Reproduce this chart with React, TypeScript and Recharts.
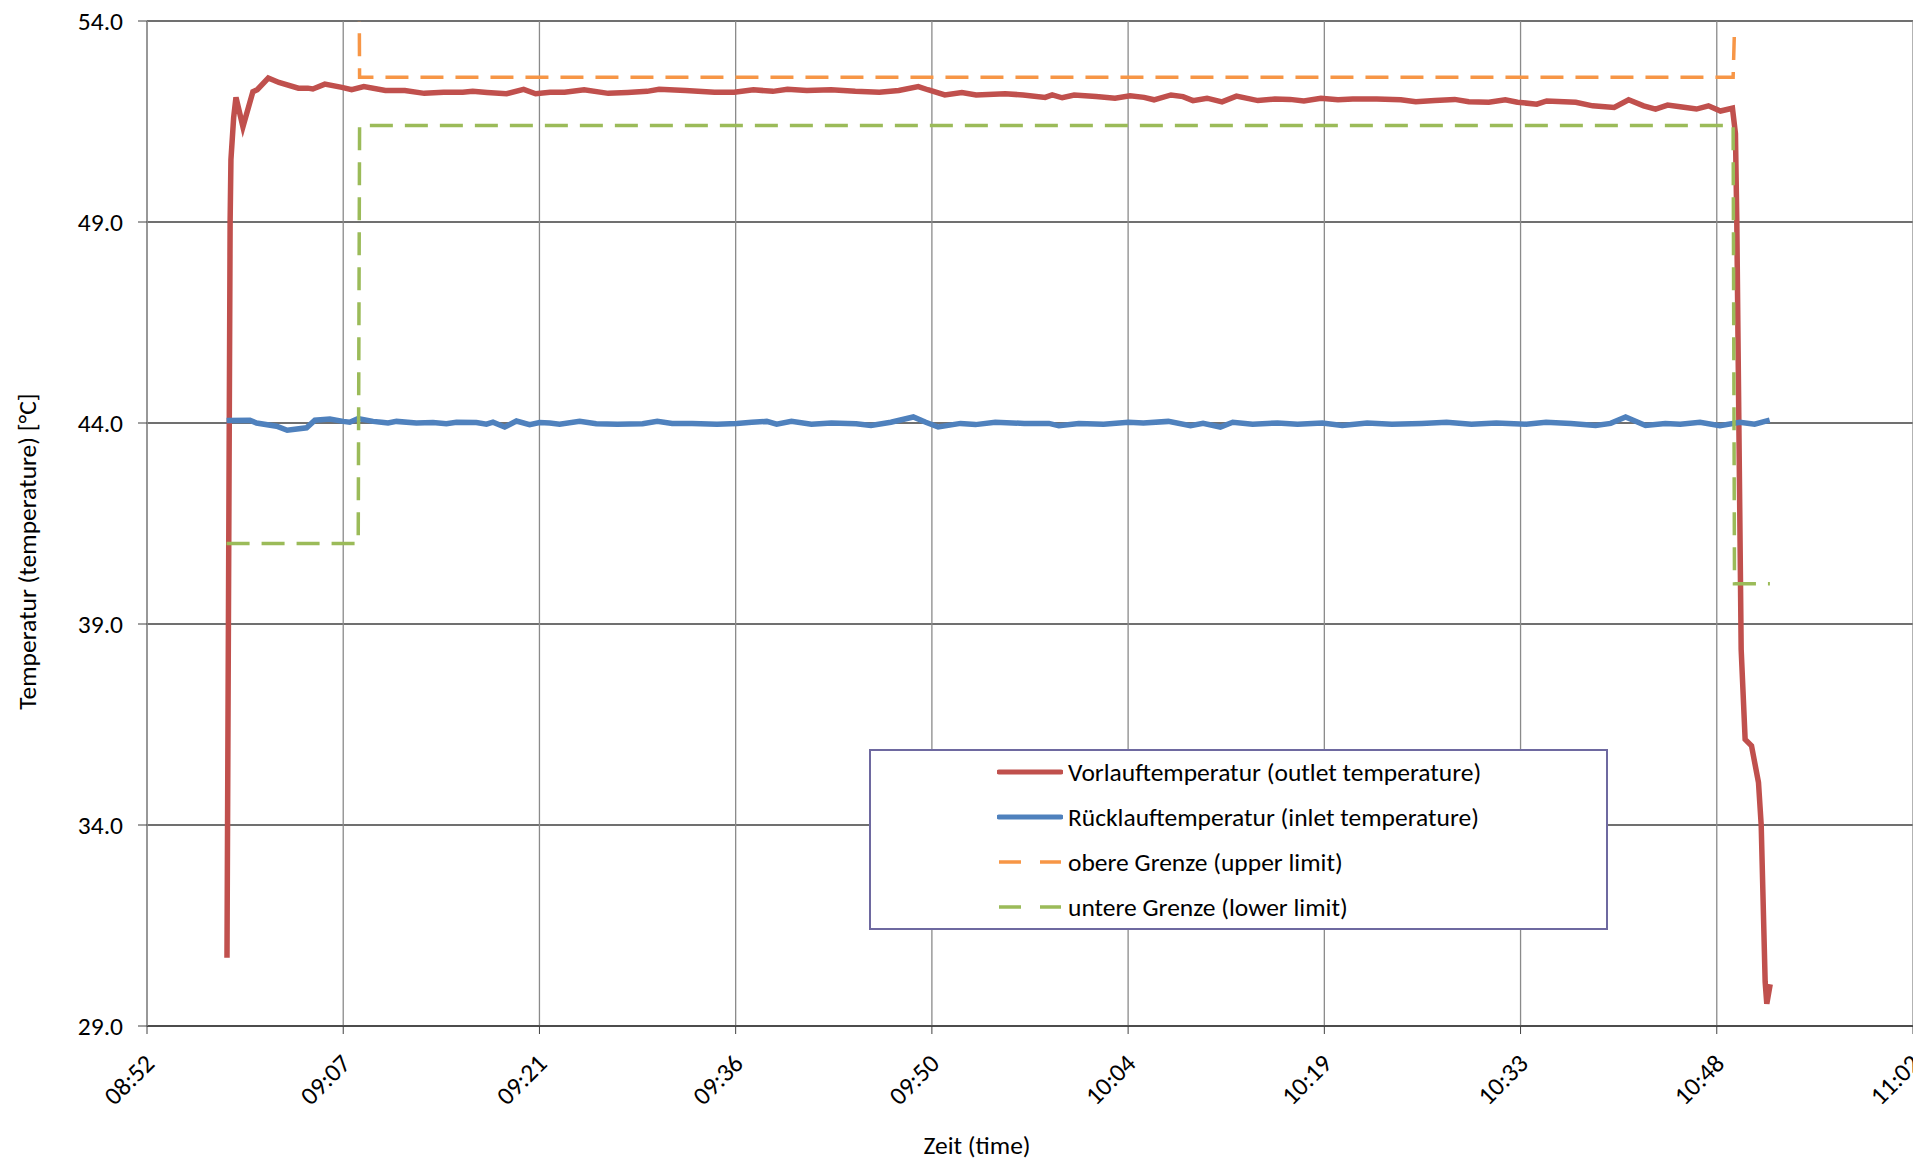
import { CartesianGrid, Legend, Line, LineChart, XAxis, YAxis } from 'recharts';

// time axis in minutes after midnight (Excel date axis, major unit 0.01 d = 14.4 min)
const timeTicks = [532.8, 547.2, 561.6, 576, 590.4, 604.8, 619.2, 633.6, 648, 662.4];
const timeLabels = ['08:52', '09:07', '09:21', '09:36', '09:50', '10:04', '10:19', '10:33', '10:48', '11:02'];
const tempTicks = [29, 34, 39, 44, 49, 54];

const outletTime = [
  538.67, 538.9, 538.96, 539.16, 539.33, 539.84, 540.57, 540.89, 541.7, 542.48, 543.91, 544.6, 544.97, 545.85,
  547.1, 547.82, 548.71, 550.3, 551.72, 553.15, 554.57, 555.97, 556.7, 557.76, 559.19, 560.44, 561.32, 562.38,
  563.45, 564.88, 566.65, 568.07, 569.5, 570.38, 572.32, 574.44, 575.89, 577.3, 578.73, 579.8, 581.22, 583.0,
  584.78, 586.54, 587.97, 589.4, 590.1, 591.35, 592.6, 593.65, 595.78, 597.1, 598.71, 599.23, 599.96, 600.84,
  602.45, 603.84, 604.94, 605.97, 606.7, 607.95, 608.83, 609.56, 610.59, 611.69, 612.75, 614.33, 615.57, 616.68,
  617.7, 618.95, 620.2, 621.29, 623.05, 624.81, 625.91, 627.31, 628.77, 629.8, 631.27, 632.48, 633.37, 634.79,
  635.52, 637.65, 638.89, 640.47, 641.53, 642.63, 643.51, 644.39, 645.45, 646.51, 647.39, 648.27, 649.15, 649.37,
  649.47, 649.79, 650.08, 650.55, 651.06, 651.26, 651.55, 651.67, 651.92
];
const outletTemp = [
  30.7, 49.0, 50.55, 51.6, 52.1, 51.37, 52.24, 52.29, 52.58, 52.47, 52.33, 52.33, 52.31, 52.43,
  52.35, 52.29, 52.37, 52.27, 52.27, 52.2, 52.23, 52.23, 52.25, 52.22, 52.19, 52.3, 52.19, 52.23,
  52.23, 52.29, 52.2, 52.22, 52.25, 52.3, 52.27, 52.23, 52.23, 52.29, 52.25, 52.3, 52.27, 52.29,
  52.25, 52.23, 52.27, 52.37, 52.29, 52.16, 52.22, 52.16, 52.19, 52.16, 52.1, 52.16, 52.09, 52.16,
  52.12, 52.08, 52.14, 52.1, 52.04, 52.16, 52.12, 52.02, 52.08, 51.99, 52.13, 52.02, 52.06, 52.05,
  52.01, 52.08, 52.04, 52.06, 52.06, 52.04, 51.99, 52.02, 52.05, 51.99, 51.98, 52.04, 51.98, 51.93,
  52.01, 51.98, 51.89, 51.85, 52.04, 51.89, 51.81, 51.91, 51.86, 51.81, 51.89, 51.76, 51.83, 51.2,
  49.0, 38.37, 36.13, 35.97, 35.06, 34.0, 30.1, 29.55, 30.04
];

const inletTime = [
  538.64, 540.35, 540.84, 542.31, 543.09, 544.51, 545.12, 546.22, 547.19, 547.68, 548.29, 549.39, 550.01, 550.49,
  551.11, 552.57, 553.79, 554.77, 555.51, 556.97, 557.71, 558.19, 559.05, 559.91, 560.88, 561.61, 562.35, 563.08,
  564.55, 565.77, 567.33, 569.17, 570.25, 571.34, 572.8, 574.63, 576.09, 577.18, 578.28, 579.01, 580.09, 581.56,
  583.02, 584.84, 585.93, 587.39, 589.04, 589.95, 590.86, 592.5, 593.6, 595.05, 597.17, 598.99, 599.72, 601.18,
  603.0, 604.83, 605.92, 607.75, 609.38, 610.3, 611.57, 612.48, 613.94, 615.77, 617.23, 619.05, 620.51, 622.34,
  624.16, 626.35, 628.17, 630.0, 631.82, 634.01, 635.47, 637.29, 639.11, 640.21, 641.31, 642.77, 644.22, 645.32,
  646.77, 648.23, 649.69, 650.78, 651.88
];
const inletTemp = [
  44.06, 44.07, 44.0, 43.92, 43.82, 43.88, 44.07, 44.1, 44.04, 44.02, 44.11, 44.04, 44.02, 44.0,
  44.04, 44.0, 44.01, 43.98, 44.02, 44.01, 43.97, 44.02, 43.9, 44.05, 43.96, 44.01, 44.0, 43.97,
  44.04, 43.98, 43.97, 43.98, 44.04, 43.99, 43.99, 43.97, 43.99, 44.02, 44.04, 43.97, 44.04, 43.97,
  44.0, 43.98, 43.94, 44.02, 44.15, 44.02, 43.9, 43.99, 43.96, 44.02, 43.99, 43.99, 43.93, 43.99,
  43.97, 44.02, 44.0, 44.04, 43.93, 43.99, 43.9, 44.02, 43.97, 44.0, 43.97, 44.0, 43.94, 44.0,
  43.97, 43.99, 44.02, 43.97, 44.0, 43.97, 44.02, 43.99, 43.94, 43.99, 44.15, 43.94, 43.99, 43.97,
  44.02, 43.93, 44.02, 43.97, 44.07
];

// upper limit starts above the plotted range (clipped)
const upperTime = [538.64, 548.3, 548.4, 649.2, 649.3];
const upperTemp = [60, 60, 52.6, 52.6, 53.8];

const lowerTime = [538.64, 548.3, 548.4, 649.2, 649.3, 651.9];
const lowerTemp = [41.0, 41.0, 51.4, 51.4, 40.0, 40.0];

const outletData = outletTime.map((t, i) => ({ t, v: outletTemp[i] }));
const inletData = inletTime.map((t, i) => ({ t, v: inletTemp[i] }));
const upperData = upperTime.map((t, i) => ({ t, v: upperTemp[i] }));
const lowerData = lowerTime.map((t, i) => ({ t, v: lowerTemp[i] }));

const font = 'Carlito, Lato, sans-serif';
const fontSize = 25.5;
const gridDark = '#404040';
const gridGray = '#8a8a8a';

const series = [
  { name: 'Vorlauftemperatur (outlet temperature)', color: '#c0504d', dash: undefined, width: 5 },
  { name: 'Rücklauftemperatur (inlet temperature)', color: '#4f81bd', dash: undefined, width: 5 },
  { name: 'obere Grenze (upper limit)', color: '#f79646', dash: '22 19', width: 3.5 },
  { name: 'untere Grenze (lower limit)', color: '#9bbb59', dash: '22 19', width: 3.5 }
];

function TimeTick(props: any) {
  const { x, y, payload } = props;
  const i = timeTicks.indexOf(payload.value);
  const ox = x + 3;
  return (
    <text
      x={ox}
      y={y}
      transform={`rotate(-45 ${ox} ${y})`}
      textAnchor="end"
      dominantBaseline="central"
      fontSize={fontSize}
      fontFamily={font}
      fill="#000"
    >
      {timeLabels[i]}
    </text>
  );
}

function YTitle(props: any) {
  const vb = props.viewBox;
  const x = vb.x + 27;
  const y = vb.y + vb.height / 2 + 28;
  return (
    <text x={x} y={y} transform={`rotate(-90 ${x} ${y})`} textAnchor="middle" dominantBaseline="central" fontSize={fontSize} fontFamily={font} fill="#000">
      Temperatur (temperature) [°C]
    </text>
  );
}

function XTitle(props: any) {
  const vb = props.viewBox;
  const x = vb.x + vb.width / 2 - 53;
  const y = vb.y + 119;
  return (
    <text x={x} y={y} textAnchor="middle" dominantBaseline="central" fontSize={fontSize} fontFamily={font} fill="#000">
      Zeit (time)
    </text>
  );
}

function LegendBox() {
  return (
    <div
      style={{
        position: 'relative',
        width: 735,
        height: 177,
        border: '2px solid #6e69a0',
        background: '#fff',
        fontFamily: font,
        fontSize,
        color: '#000'
      }}
    >
      {series.map((s, i) => (
        <div key={s.name} style={{ position: 'absolute', left: 0, top: i * 45, height: 45, width: '100%' }}>
          <svg width={66} height={10} style={{ position: 'absolute', left: 126, top: 16 }}>
            <line
              x1={2}
              x2={64}
              y1={5}
              y2={5}
              stroke={s.color}
              strokeWidth={s.width}
              strokeDasharray={s.dash}
              strokeLinecap={s.dash ? 'butt' : 'round'}
            />
          </svg>
          <span style={{ position: 'absolute', left: 197, top: 0, lineHeight: '43px', whiteSpace: 'nowrap' }}>{s.name}</span>
        </div>
      ))}
    </div>
  );
}

export default function App() {
  return (
    <div>
      <style>{'body{margin:0;background:#fff}'}</style>
      <LineChart width={1913} height={1161} margin={{ top: 21, right: 0, left: 0, bottom: 0 }}>
        <CartesianGrid vertical={false} stroke={gridDark} strokeWidth={1.3} />
        <CartesianGrid horizontal={false} stroke={gridGray} strokeWidth={1.3} />
        <XAxis
          dataKey="t"
          type="number"
          domain={[532.8, 662.4]}
          allowDataOverflow
          ticks={timeTicks}
          interval={0}
          height={135}
          tickSize={8}
          tickMargin={25}
          tick={<TimeTick />}
          axisLine={{ stroke: gridDark, strokeWidth: 1.3 }}
          tickLine={{ stroke: gridDark }}
          label={XTitle}
        />
        <YAxis
          type="number"
          domain={[29, 54]}
          allowDataOverflow
          ticks={tempTicks}
          interval={0}
          width={147}
          tickSize={9}
          tickMargin={15}
          tickFormatter={(v: number) => v.toFixed(1)}
          tick={{ fill: '#000', fontSize, fontFamily: font }}
          axisLine={{ stroke: gridGray, strokeWidth: 1.3 }}
          tickLine={{ stroke: gridDark }}
          label={YTitle}
        />
        <Legend
          layout="vertical"
          align="center"
          verticalAlign="middle"
          content={<LegendBox />}
          wrapperStyle={{ left: 869, top: 749, width: 739, height: 181 }}
        />
        <Line data={outletData} dataKey="v" name={series[0].name} stroke={series[0].color} strokeWidth={5.5} dot={false} isAnimationActive={false} />
        <Line data={inletData} dataKey="v" name={series[1].name} stroke={series[1].color} strokeWidth={5.5} dot={false} isAnimationActive={false} />
        <Line data={upperData} dataKey="v" name={series[2].name} stroke={series[2].color} strokeWidth={3.5} strokeDasharray="23 12" dot={false} isAnimationActive={false} />
        <Line data={lowerData} dataKey="v" name={series[3].name} stroke={series[3].color} strokeWidth={3.5} strokeDasharray="23 12" dot={false} isAnimationActive={false} />
      </LineChart>
    </div>
  );
}
